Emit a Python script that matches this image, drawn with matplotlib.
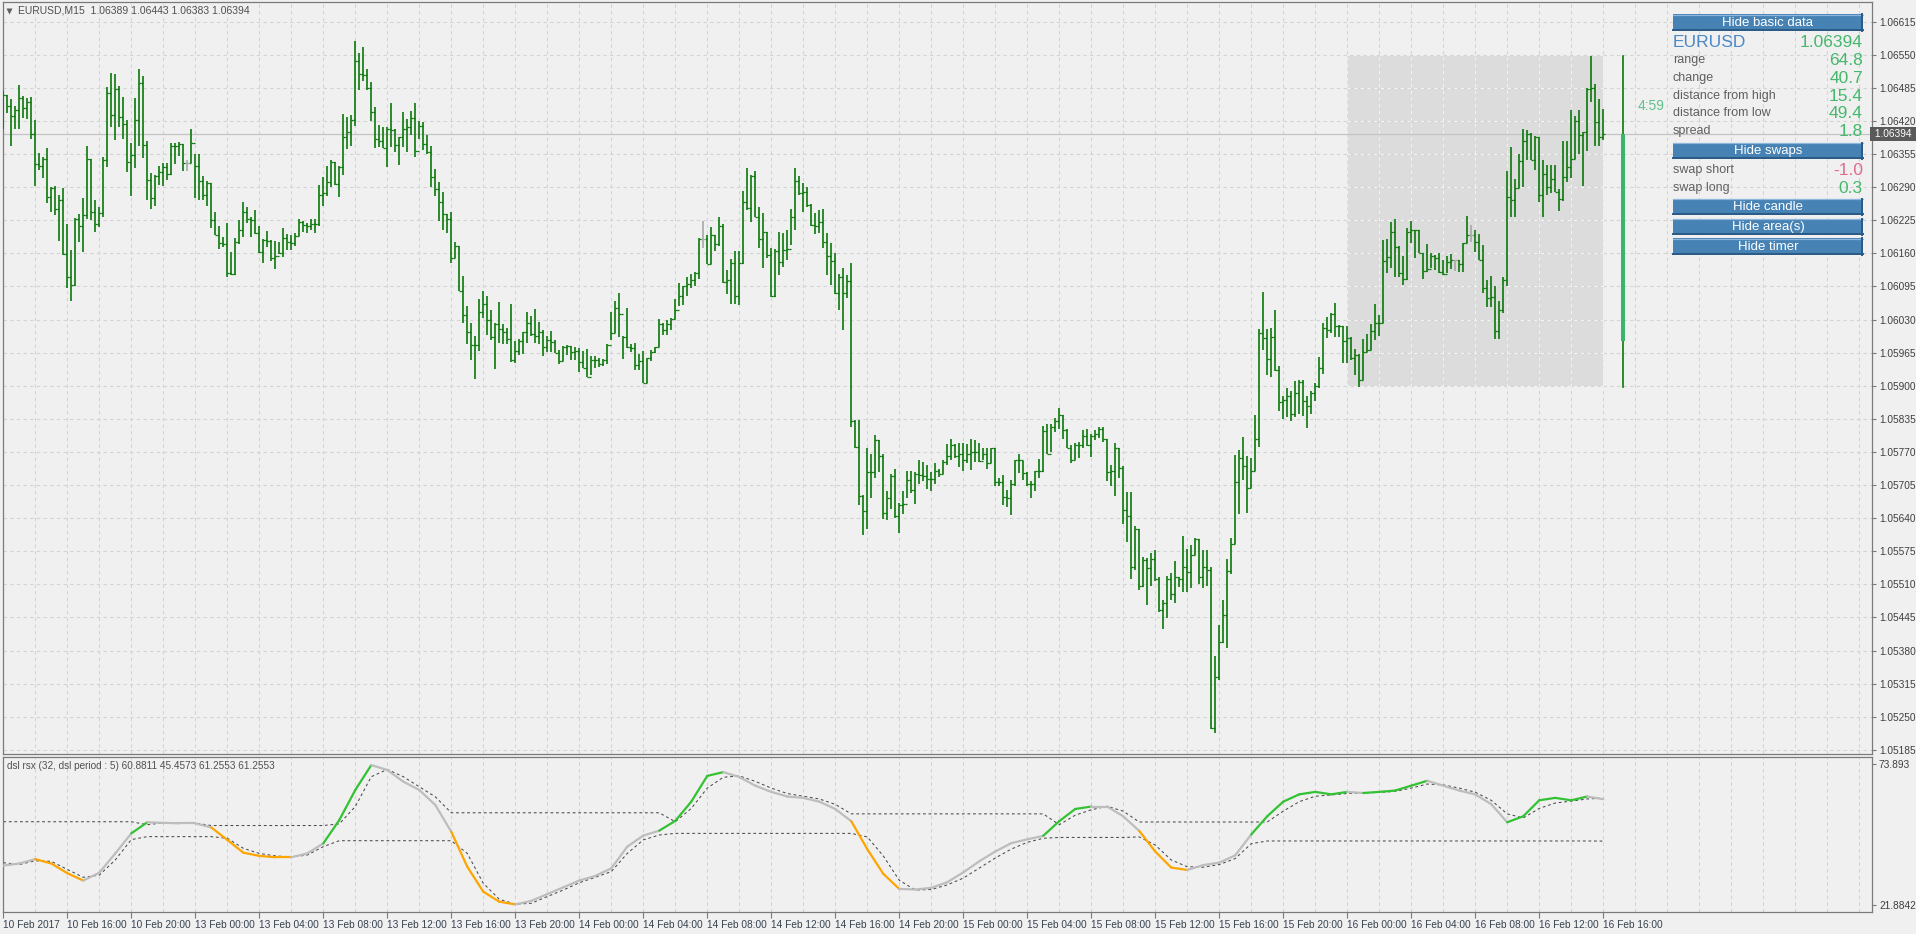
import numpy as np
import matplotlib.pyplot as plt
from matplotlib.collections import LineCollection
from matplotlib.patches import Rectangle

plt.rcParams['font.family'] = ['Liberation Sans', 'DejaVu Sans']
plt.rcParams['lines.scale_dashes'] = False

# EURUSD M15 bars, prices in points above 1.05000 (10 Feb 12:00 .. 16 Feb 16:00)
high_pts = [
    1478, 1471, 1463, 1450, 1491, 1469, 1465, 1468, 1422, 1357,
    1350, 1367, 1291, 1293, 1275, 1289, 1218, 1167, 1229, 1237,
    1268, 1371, 1346, 1265, 1251, 1350, 1486, 1515, 1513, 1488,
    1468, 1422, 1376, 1465, 1523, 1509, 1381, 1317, 1313, 1332,
    1337, 1338, 1377, 1376, 1378, 1375, 1344, 1405, 1355, 1355,
    1312, 1302, 1298, 1241, 1213, 1193, 1220, 1163, 1190, 1226,
    1261, 1252, 1231, 1245, 1213, 1188, 1204, 1187, 1185, 1182,
    1210, 1199, 1196, 1201, 1227, 1224, 1220, 1228, 1227, 1294,
    1311, 1332, 1344, 1340, 1332, 1434, 1427, 1432, 1578, 1553,
    1566, 1522, 1496, 1447, 1412, 1408, 1408, 1455, 1404, 1389,
    1438, 1423, 1440, 1455, 1420, 1418, 1392, 1371, 1325, 1300,
    1280, 1238, 1242, 1183, 1175, 1115, 1056, 1024, 997, 1070,
    1087, 1077, 1048, 1024, 1064, 1022, 1013, 1061, 987, 992,
    1005, 1045, 1037, 1051, 1025, 1009, 997, 1008, 990, 971,
    978, 980, 978, 976, 974, 969, 973, 959, 958, 954,
    953, 982, 1044, 1067, 1082, 997, 1052, 982, 985, 962,
    969, 954, 971, 977, 1031, 1023, 1030, 1033, 1070, 1102,
    1095, 1113, 1119, 1123, 1190, 1224, 1196, 1212, 1196, 1231,
    1217, 1128, 1149, 1165, 1165, 1282, 1327, 1314, 1322, 1252,
    1240, 1203, 1170, 1168, 1203, 1200, 1206, 1247, 1327, 1312,
    1298, 1291, 1257, 1240, 1246, 1247, 1200, 1180, 1160, 1119,
    1132, 1118, 1142, 833, 833, 685, 777, 766, 804, 793,
    766, 693, 726, 737, 670, 694, 733, 733, 730, 755,
    751, 744, 730, 748, 737, 755, 785, 795, 785, 787,
    787, 785, 795, 793, 787, 778, 778, 778, 778, 719,
    724, 696, 715, 755, 766, 753, 730, 713, 733, 757,
    822, 824, 824, 836, 856, 842, 815, 784, 787, 789,
    813, 816, 806, 813, 819, 819, 795, 745, 787, 778,
    742, 691, 691, 625, 619, 563, 561, 572, 578, 524,
    480, 527, 532, 556, 524, 605, 579, 587, 602, 599,
    578, 578, 544, 370, 431, 480, 560, 602, 764, 774,
    800, 762, 759, 843, 1012, 1085, 1012, 1013, 1049, 939,
    880, 895, 890, 910, 912, 912, 880, 890, 905, 957,
    1023, 1036, 1042, 1062, 1019, 1017, 1017, 996, 972, 962,
    991, 1002, 1021, 1060, 1039, 1186, 1188, 1222, 1227, 1175,
    1155, 1210, 1224, 1206, 1206, 1160, 1178, 1160, 1157, 1160,
    1147, 1155, 1158, 1148, 1148, 1180, 1233, 1216, 1206, 1199,
    1176, 1108, 1116, 1096, 1066, 1113, 1322, 1368, 1306, 1356,
    1404, 1402, 1396, 1390, 1389, 1343, 1334, 1334, 1334, 1286,
    1381, 1381, 1442, 1430, 1442, 1399, 1484, 1548, 1492, 1464,
    1443,
]
low_pts = [
    1404, 1435, 1370, 1404, 1404, 1425, 1423, 1384, 1293, 1324,
    1309, 1258, 1242, 1235, 1185, 1156, 1093, 1067, 1095, 1182,
    1163, 1227, 1226, 1203, 1211, 1232, 1330, 1409, 1382, 1409,
    1384, 1319, 1273, 1327, 1370, 1347, 1264, 1247, 1254, 1294,
    1293, 1304, 1314, 1335, 1352, 1321, 1321, 1338, 1268, 1265,
    1265, 1254, 1209, 1196, 1169, 1173, 1113, 1118, 1117, 1178,
    1193, 1219, 1192, 1198, 1161, 1142, 1172, 1146, 1130, 1159,
    1153, 1167, 1166, 1175, 1194, 1202, 1200, 1205, 1201, 1213,
    1253, 1273, 1291, 1294, 1271, 1314, 1365, 1371, 1410, 1480,
    1499, 1480, 1420, 1366, 1368, 1366, 1330, 1368, 1359, 1334,
    1368, 1360, 1392, 1349, 1385, 1363, 1356, 1291, 1272, 1223,
    1206, 1200, 1142, 1151, 1087, 1023, 982, 950, 913, 969,
    1033, 1000, 990, 933, 984, 982, 982, 946, 944, 961,
    963, 985, 997, 985, 982, 958, 967, 966, 964, 942,
    949, 961, 951, 951, 928, 934, 917, 921, 935, 937,
    938, 942, 990, 1003, 995, 953, 974, 967, 931, 931,
    906, 905, 948, 964, 976, 1000, 1000, 1009, 1031, 1057,
    1058, 1077, 1092, 1095, 1109, 1170, 1139, 1139, 1165, 1175,
    1102, 1081, 1060, 1060, 1058, 1139, 1246, 1221, 1231, 1170,
    1131, 1151, 1075, 1075, 1118, 1134, 1147, 1177, 1205, 1275,
    1242, 1252, 1214, 1198, 1200, 1170, 1118, 1098, 1081, 1049,
    1009, 1072, 819, 777, 666, 607, 619, 679, 719, 730,
    639, 636, 659, 641, 610, 649, 679, 690, 668, 708,
    713, 697, 693, 708, 720, 726, 744, 755, 759, 741,
    733, 748, 735, 751, 751, 755, 737, 748, 703, 704,
    665, 662, 647, 704, 728, 715, 704, 679, 693, 719,
    730, 766, 769, 809, 816, 795, 778, 748, 755, 758,
    778, 782, 761, 793, 798, 790, 713, 703, 684, 719,
    628, 594, 520, 538, 498, 505, 469, 506, 516, 455,
    422, 444, 480, 473, 505, 496, 495, 502, 567, 511,
    503, 506, 226, 218, 323, 395, 385, 531, 589, 648,
    715, 650, 699, 733, 779, 970, 921, 918, 929, 850,
    835, 838, 830, 838, 845, 840, 818, 845, 870, 895,
    924, 993, 1003, 996, 996, 945, 945, 951, 922, 898,
    911, 967, 970, 990, 998, 1023, 1122, 1131, 1113, 1114,
    1097, 1108, 1180, 1150, 1160, 1109, 1124, 1131, 1127, 1121,
    1117, 1121, 1129, 1126, 1123, 1124, 1180, 1183, 1163, 1148,
    1083, 1054, 1055, 991, 991, 1042, 1095, 1232, 1232, 1288,
    1291, 1343, 1343, 1324, 1260, 1232, 1275, 1278, 1281, 1244,
    1262, 1301, 1309, 1345, 1356, 1293, 1361, 1458, 1370, 1370,
    1383,
]
close_pts = [
    1471, 1450, 1430, 1442, 1465, 1445, 1458, 1394, 1335, 1332,
    1346, 1271, 1289, 1247, 1264, 1159, 1113, 1097, 1227, 1213,
    1235, 1345, 1242, 1218, 1239, 1343, 1475, 1432, 1483, 1427,
    1414, 1339, 1353, 1422, 1494, 1372, 1304, 1268, 1312, 1319,
    1329, 1315, 1370, 1371, 1374, 1337, 1337, 1376, 1332, 1302,
    1275, 1298, 1225, 1196, 1180, 1178, 1121, 1119, 1182, 1206,
    1241, 1228, 1226, 1201, 1163, 1187, 1185, 1150, 1154, 1161,
    1190, 1182, 1181, 1194, 1222, 1216, 1214, 1217, 1218, 1275,
    1278, 1301, 1339, 1296, 1329, 1389, 1398, 1422, 1537, 1513,
    1511, 1484, 1437, 1385, 1380, 1367, 1404, 1402, 1372, 1388,
    1405, 1409, 1425, 1362, 1410, 1375, 1360, 1310, 1286, 1261,
    1238, 1227, 1151, 1175, 1087, 1039, 1005, 980, 980, 1045,
    1060, 1030, 995, 1022, 1011, 1005, 992, 951, 969, 988,
    1005, 1024, 1001, 998, 1005, 977, 990, 986, 965, 949,
    976, 978, 967, 969, 947, 934, 918, 950, 951, 942,
    951, 980, 1003, 1052, 1041, 995, 977, 974, 940, 949,
    906, 954, 967, 976, 1021, 1010, 1022, 1032, 1049, 1077,
    1095, 1100, 1108, 1121, 1188, 1188, 1139, 1196, 1178, 1214,
    1103, 1108, 1142, 1077, 1141, 1260, 1249, 1312, 1231, 1189,
    1203, 1157, 1077, 1164, 1144, 1167, 1168, 1231, 1303, 1278,
    1280, 1255, 1215, 1213, 1222, 1183, 1154, 1145, 1082, 1113,
    1082, 1105, 831, 779, 683, 655, 730, 731, 793, 762,
    650, 679, 722, 645, 665, 668, 715, 695, 726, 724,
    722, 717, 717, 732, 726, 751, 762, 784, 762, 766,
    755, 766, 769, 769, 753, 766, 748, 777, 712, 712,
    681, 679, 708, 755, 755, 729, 708, 708, 732, 733,
    811, 767, 820, 831, 842, 813, 778, 755, 784, 784,
    802, 784, 802, 806, 816, 795, 731, 733, 777, 738,
    657, 645, 545, 619, 507, 558, 542, 560, 521, 459,
    474, 520, 491, 524, 520, 545, 534, 568, 599, 525,
    545, 538, 227, 328, 397, 449, 536, 590, 712, 759,
    742, 699, 733, 796, 1004, 994, 952, 995, 931, 869,
    872, 880, 845, 885, 908, 870, 860, 885, 900, 934,
    1013, 1009, 1041, 1017, 1017, 987, 994, 954, 960, 911,
    966, 970, 1008, 1023, 1024, 1145, 1153, 1203, 1172, 1121,
    1109, 1203, 1205, 1206, 1160, 1125, 1129, 1154, 1150, 1124,
    1119, 1144, 1147, 1147, 1140, 1180, 1197, 1197, 1182, 1148,
    1093, 1072, 1074, 1008, 1049, 1108, 1270, 1265, 1288, 1342,
    1381, 1394, 1343, 1389, 1275, 1316, 1291, 1306, 1281, 1267,
    1311, 1330, 1345, 1420, 1392, 1398, 1483, 1484, 1419, 1389,
    1394,
]
first_open_pts = 1475
doji_bars = [46, 175, 363, 367]
day_start_bar = 336

# time axis labels, one every 16 bars
time_labels = ['10 Feb 2017', '10 Feb 16:00', '10 Feb 20:00', '13 Feb 00:00', '13 Feb 04:00',
               '13 Feb 08:00', '13 Feb 12:00', '13 Feb 16:00', '13 Feb 20:00', '14 Feb 00:00',
               '14 Feb 04:00', '14 Feb 08:00', '14 Feb 12:00', '14 Feb 16:00', '14 Feb 20:00',
               '15 Feb 00:00', '15 Feb 04:00', '15 Feb 08:00', '15 Feb 12:00', '15 Feb 16:00',
               '15 Feb 20:00', '16 Feb 00:00', '16 Feb 04:00', '16 Feb 08:00', '16 Feb 12:00',
               '16 Feb 16:00']

# dsl rsx indicator, one value per hour (every 4 bars)
rsx = [36.4, 37.2, 38.8, 37.2, 33.6, 30.9, 33.8, 40.9, 48.3, 52.4,
       52.2, 52.0, 52.0, 50.5, 45.9, 41.2, 40.0, 39.5, 39.5, 40.9,
       44.6, 53.2, 64.3, 73.5, 71.7, 67.4, 64.3, 58.8, 48.9, 36.0,
       26.8, 23.1, 22.1, 23.4, 25.9, 28.4, 30.9, 32.6, 35.4, 43.4,
       47.5, 49.3, 52.9, 60.0, 69.5, 70.9, 69.1, 65.9, 63.6, 61.9,
       61.4, 60.0, 57.3, 52.8, 42.5, 33.4, 27.8, 27.6, 28.2, 30.3,
       33.9, 38.0, 41.6, 44.7, 46.1, 47.4, 52.8, 57.3, 58.2, 58.2,
       54.6, 49.2, 41.6, 35.7, 34.8, 36.6, 37.5, 40.2, 47.9, 54.6,
       60.0, 62.7, 63.6, 62.7, 63.6, 63.2, 63.6, 64.1, 65.9, 67.7,
       65.9, 64.1, 62.7, 59.1, 52.4, 54.6, 60.5, 61.4, 60.5, 61.9,
       60.9]
dsl_up = [52.6, 52.6, 52.6, 52.6, 52.6, 52.6, 52.6, 52.6, 52.6, 51.5,
          52.2, 52.1, 52.1, 51.2, 51.2, 51.2, 51.2, 51.2, 51.2, 51.2,
          51.2, 51.8, 58.2, 69.2, 71.9, 69.2, 65.5, 61.8, 55.9, 55.9,
          55.9, 55.9, 55.9, 55.9, 55.9, 55.9, 55.9, 55.9, 55.9, 55.9,
          55.9, 55.9, 52.6, 57.5, 65.0, 69.0, 69.5, 67.5, 65.0, 63.0,
          62.0, 61.0, 59.0, 55.5, 55.5, 55.5, 55.5, 55.5, 55.5, 55.5,
          55.5, 55.5, 55.5, 55.5, 55.5, 55.5, 51.5, 55.0, 57.0, 58.3,
          56.5, 52.5, 52.5, 52.5, 52.5, 52.5, 52.5, 52.5, 52.5, 52.5,
          56.5, 60.0, 62.0, 62.5, 63.0, 63.3, 63.4, 63.8, 65.0, 66.5,
          66.2, 65.0, 63.5, 60.5, 55.5, 54.0, 57.5, 59.5, 60.2, 61.0,
          61.3]
dsl_dn = [37.5, 36.8, 38.2, 38.0, 35.0, 32.1, 32.9, 38.5, 46.0, 47.1,
          47.1, 47.1, 47.1, 47.1, 46.5, 42.8, 40.9, 40.0, 39.6, 40.3,
          43.4, 45.6, 45.6, 45.6, 45.6, 45.6, 45.6, 45.6, 45.6, 40.9,
          29.9, 24.0, 22.2, 22.5, 25.0, 27.4, 30.1, 32.1, 34.2, 40.9,
          45.9, 47.7, 48.3, 48.3, 48.3, 48.3, 48.3, 48.3, 48.3, 48.3,
          48.3, 48.3, 48.3, 48.3, 47.0, 40.0, 31.0, 27.4, 27.6, 29.3,
          31.8, 35.5, 39.2, 42.5, 45.0, 46.5, 46.8, 46.8, 46.8, 46.8,
          46.8, 47.0, 44.0, 38.5, 36.0, 35.8, 36.8, 39.0, 44.5, 45.5,
          45.5, 45.5, 45.5, 45.5, 45.5, 45.5, 45.5, 45.5, 45.5, 45.5,
          45.5, 45.5, 45.5, 45.5, 45.5, 45.5, 45.5, 45.5, 45.5, 45.5,
          45.46]
rsx_header = 'dsl rsx (32, dsl period : 5) 60.8811 45.4573 61.2553 61.2553'

# info panel
info_rows = ['range', 'change', 'distance from high', 'distance from low', 'spread']
info_vals = ['64.8', '40.7', '15.4', '49.4', '1.8']
swap_rows = ['swap short', 'swap long']
swap_vals = ['-1.0', '0.3']
buttons = ['Hide basic data', 'Hide swaps', 'Hide candle', 'Hide area(s)', 'Hide timer']
timer_text = '4:59'

# ---------------------------------------------------------------
W, H = 1916, 934
BG = '#f0f0f0'
GRID = '#d3d3d3'
BAR = '#0b780b'
DOJI = '#a8a8a8'
SPINE = '#7a7a7a'
TXT = '#404040'

base, point = 1.05, 1e-5
hi = base + np.array(high_pts) * point
lo = base + np.array(low_pts) * point
cl = base + np.array(close_pts) * point
n = len(cl)
op = np.r_[base + first_open_pts * point, cl[:-1]]
op[doji_bars] = cl[doji_bars]
xs = np.arange(n)

day_hi = hi[day_start_bar:].max()
day_lo = lo[day_start_bar:].min()
day_op = op[day_start_bar]
last = cl[-1]

price_ticks = [1.06615 - k * 0.00065 for k in range(23)]
x_left, x_right = -0.2, 467.2

fig = plt.figure(figsize=(W / 100, H / 100), dpi=100)
fig.patch.set_facecolor(BG)


def fig_rect(x0, y0, x1, y1):
    return [x0 / W, 1 - y1 / H, (x1 - x0) / W, (y1 - y0) / H]


ax = fig.add_axes(fig_rect(2.5, 2, 1872, 754))
ax_ind = fig.add_axes(fig_rect(2.5, 756.5, 1872, 912))

for a in (ax, ax_ind):
    a.set_facecolor(BG)
    a.set_xlim(x_left, x_right)
    for s in a.spines.values():
        s.set_color(SPINE)
        s.set_linewidth(0.9)
    for gx in range(8, 467, 8):
        a.axvline(gx, color=GRID, lw=0.8, dashes=(2.4, 2.4), zorder=0.8)

# ---- main price panel
ax.set_ylim(1.051769, 1.066537)
for p in price_ticks:
    ax.axhline(p, color=GRID, lw=0.8, dashes=(2.4, 2.4), zorder=0.8)

# daily range area
ax.add_patch(Rectangle((day_start_bar, day_lo), n - 1 - day_start_bar, day_hi - day_lo,
                       facecolor='#dcdcdc', edgecolor='none', zorder=0.6))
for gx in range(day_start_bar, n, 8):
    ax.plot([gx, gx], [day_lo, day_hi], color='#f3f3f3', lw=0.8, dashes=(2.4, 2.4), zorder=0.9)
for p in price_ticks:
    if day_lo - 1e-6 <= p <= day_hi + 1e-6:
        ax.plot([day_start_bar, n - 1], [p, p], color='#f3f3f3', lw=0.8, dashes=(2.4, 2.4), zorder=0.9)

ax.axhline(last, color='#c4c4c4', lw=0.9, zorder=1)

colors = [DOJI if i in doji_bars else BAR for i in range(n)]
vsegs = [[(i, lo[i]), (i, hi[i])] for i in xs]
osegs = [[(i - 0.55, op[i]), (i, op[i])] for i in xs]
csegs = [[(i, cl[i]), (i + 0.55, cl[i])] for i in xs]
ax.add_collection(LineCollection(vsegs, colors=colors, linewidths=1.2, zorder=3))
ax.add_collection(LineCollection(osegs + csegs, colors=colors + colors, linewidths=0.9, zorder=3))

# day candle to the right of the bars
cx = n + 4
ax.plot([cx, cx], [day_lo, day_hi], color=BAR, lw=1.2, zorder=3)
ax.add_patch(Rectangle((cx - 0.55, day_op), 1.1, last - day_op, facecolor='#3cb46c',
                       edgecolor='none', zorder=4))

ax.yaxis.tick_right()
ax.set_yticks(price_ticks)
ax.set_yticklabels([f'{p:.5f}' for p in price_ticks])
ax.tick_params(axis='y', length=3, width=0.8, color=SPINE, labelsize=7.3,
               labelcolor=TXT, pad=2)
ax.set_xticks([])
ax.text(1.0, last, f' {last:.5f} ', transform=ax.get_yaxis_transform(), ha='left',
        va='center', fontsize=7.3, color='white', zorder=20, clip_on=False,
        bbox=dict(boxstyle='square,pad=0.2', fc='#5a5a5a', ec='none'))

# ---- indicator panel
ax_ind.set_ylim(19.30, 76.66)
hx = np.arange(len(rsx)) * 4
r = np.array(rsx)
up = np.array(dsl_up)
dn = np.array(dsl_dn)
state = np.where(r > up, 1, np.where(r < dn, -1, 0))
state_col = {1: '#33c233', -1: '#ffa500', 0: '#bdbdbd'}
rsegs = [[(hx[k - 1], r[k - 1]), (hx[k], r[k])] for k in range(1, len(r))]
rcols = [state_col[state[k]] for k in range(1, len(r))]
ax_ind.plot(hx, up, color='#4a4a4a', lw=0.75, dashes=(2, 2), zorder=2)
ax_ind.plot(hx, dn, color='#4a4a4a', lw=0.75, dashes=(2, 2), zorder=2)
ax_ind.add_collection(LineCollection(rsegs, colors=rcols, linewidths=1.6,
                                     capstyle='round', zorder=3))

ax_ind.yaxis.tick_right()
ax_ind.set_yticks([21.8842, 73.893])
ax_ind.set_yticklabels(['21.8842', '73.893'])
ax_ind.tick_params(axis='y', length=3, width=0.8, color=SPINE, labelsize=7.3,
                   labelcolor=TXT, pad=2)
ax_ind.set_xticks(np.arange(len(time_labels)) * 16)
ax_ind.set_xticklabels(time_labels, ha='left')
ax_ind.tick_params(axis='x', length=4, width=0.8, color=SPINE, labelsize=7.3,
                   labelcolor='#36424f', pad=1.5)

# ---- overlay texts and buttons (pixel coordinates)
ui = fig.add_axes([0, 0, 1, 1], zorder=10)
ui.set_xlim(0, W)
ui.set_ylim(H, 0)
ui.axis('off')
ui.patch.set_alpha(0)

ui.plot([9.5], [10.5], marker='v', ms=4.5, color='#606060', mec='none')
ui.text(18, 10.7, f'EURUSD,M15  {op[-1]:.5f} {hi[-1]:.5f} {lo[-1]:.5f} {last:.5f}',
        fontsize=7.5, color='#505050', va='center', ha='left')
ui.text(7, 766, rsx_header, fontsize=7.2, color='#505050', va='center', ha='left')
ui.text(1638, 106.5, timer_text, fontsize=10, color='#5fc08c', va='center', ha='left')

px0, px1 = 1673, 1863
green = '#45b86c'


def button(label, y0, y1):
    ui.add_patch(Rectangle((px0, y0), px1 - px0, y1 - y0, facecolor='#4682b4',
                           edgecolor='none'))
    ui.plot([px0, px1], [y0 + 0.6, y0 + 0.6], color='#8db7de', lw=0.9)
    ui.plot([px0, px1], [y1 - 0.9, y1 - 0.9], color='#2b5a86', lw=1.4)
    ui.plot([px1 - 0.9, px1 - 0.9], [y0, y1], color='#2b5a86', lw=1.4)
    ui.text((px0 + px1) / 2, (y0 + y1) / 2 + 0.5, label, fontsize=9.5, color='white',
            ha='center', va='center')


button_y = [(14, 31), (142.5, 159), (198.5, 215), (218.5, 235), (238, 254.5)]
for b, (y0, y1) in zip(buttons, button_y):
    button(b, y0, y1)

ui.text(px0, 42.5, 'EURUSD', fontsize=12.5, color='#4a88c8', ha='left', va='center')
ui.text(px1, 42.5, f'{last:.5f}', fontsize=12.5, color=green, ha='right', va='center')
for k, (lab, val) in enumerate(zip(info_rows, info_vals)):
    y = 60 + k * 17.8
    ui.text(px0, y, lab, fontsize=9, color='#606060', ha='left', va='center')
    ui.text(px1, y + 0.5, val, fontsize=12.5, color=green, ha='right', va='center')
for k, (lab, val) in enumerate(zip(swap_rows, swap_vals)):
    y = 170 + k * 17.7
    ui.text(px0, y, lab, fontsize=9, color='#606060', ha='left', va='center')
    ui.text(px1, y + 0.5, val, fontsize=12.5, color='#e36b90' if val.startswith('-') else green,
            ha='right', va='center')

fig.savefig('out.png', dpi=100, facecolor=BG)
